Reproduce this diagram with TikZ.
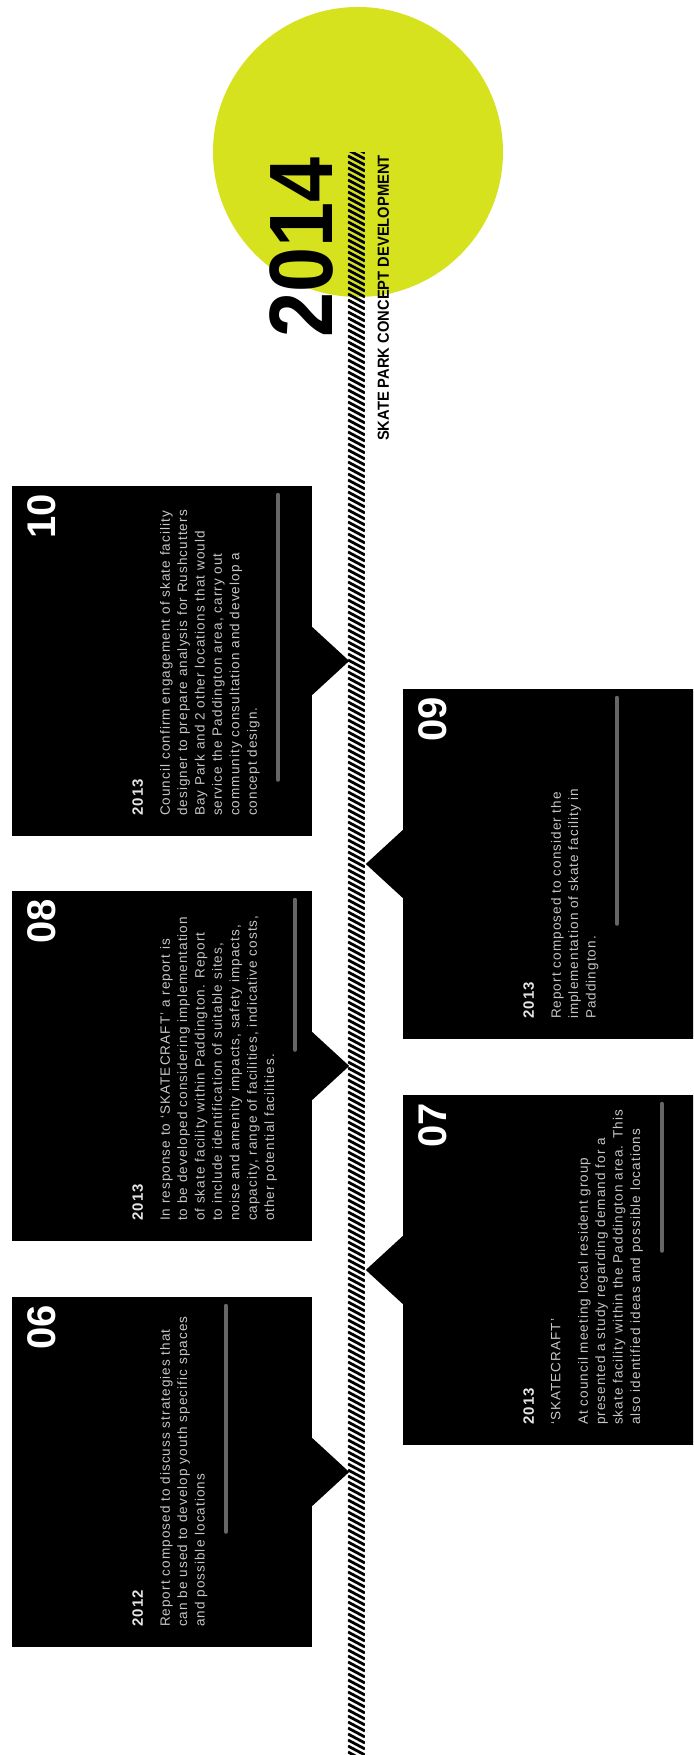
\documentclass[tikz,border=0pt]{standalone}
\usepackage{fontspec}
\setmainfont{Liberation Sans}
\newfontfamily\cardfont[LetterSpace=8]{Liberation Sans}
\usetikzlibrary{calc}
\definecolor{skatelime}{RGB}{214,226,30}

\begin{document}
\begin{tikzpicture}[x=1pt, y=1pt, rotate=90, transform shape,
    card/.style={fill=black, minimum width=350pt, minimum height=300pt, inner sep=0pt},
    cardnum/.style={text=white, font=\bfseries\fontsize{40}{40}\selectfont, inner sep=0pt, anchor=north east},
    cardyear/.style={text=white!90!black, font=\cardfont\bfseries\fontsize{15}{15}\selectfont, inner sep=0pt, anchor=base west},
    cardtext/.style={text=white!78!black, font=\cardfont\fontsize{13.5}{17.4}\selectfont, align=left, inner sep=0pt, anchor=north west},
    srcline/.style={black!60, line width=4pt, line cap=round}]
    % 横向画好再整体旋转, 1pt = 1px
    \useasboundingbox (0,0) rectangle (1755,693);
    \clip (0,0) rectangle (1755,693);

    % 2014 圆
    \fill[skatelime] (1603,335) circle (145);

    % 斜线时间轴
    \begin{scope}
        \clip (0,328) rectangle (1602,345);
        \foreach \s in {-12,-6,...,1608} \draw[line width=2.8pt] (\s+9,345) -- (\s,328);
    \end{scope}

    \node[font=\bfseries\fontsize{90}{90}\selectfont, inner sep=0pt, anchor=base east] (yr) at (1598,360) {\scalebox{0.9}[1]{2014}};
    \node[font=\bfseries\fontsize{16}{16}\selectfont, inner sep=0pt, anchor=base east] (title) at (1600,304) {\scalebox{0.92}[1]{SKATE PARK CONCEPT DEVELOPMENT}};

    % 06 (2012)
    \node[card] (c06) at (283,531) {};
    \fill (c06.south) ++(-34,0) -- ++(34,-37) -- ++(34,37) -- cycle;
    \node[cardnum] (n06) at ($(c06.north east)+(-8,-16)$) {06};
    \node[cardyear] (y06) at ($(c06.north west)+(20,-131)$) {2012};
    \node[cardtext] (t06) at ($(c06.north west)+(20,-148)$) {Report composed to discuss strategies that\\can be used to develop youth specific spaces\\and possible locations};
    \draw[srcline] ($(c06.north east)+(-9,-214)$) -- ++(-226,0);

    % 07 (2013)
    \node[card] (c07) at (485,140) {};
    \fill (c07.north) ++(-34,0) -- ++(34,37) -- ++(34,-37) -- cycle;
    \node[cardnum] (n07) at ($(c07.north east)+(-8,-16)$) {07};
    \node[cardyear] (y07) at ($(c07.north west)+(20,-131)$) {2013};
    \node[cardtext] (t07) at ($(c07.north west)+(20,-148)$) {‘SKATECRAFT’\\[10pt]At council meeting local resident group\\presented a study regarding demand for a\\skate facility within the Paddington area. This\\also identified ideas and possible locations};
    \draw[srcline] ($(c07.north east)+(-9,-259)$) -- ++(-147,0);

    % 08 (2013)
    \node[card] (c08) at (689,531) {};
    \fill (c08.south) ++(-34,0) -- ++(34,-37) -- ++(34,37) -- cycle;
    \node[cardnum] (n08) at ($(c08.north east)+(-8,-16)$) {08};
    \node[cardyear] (y08) at ($(c08.north west)+(20,-131)$) {2013};
    \node[cardtext] (t08) at ($(c08.north west)+(20,-148)$) {In response to ‘SKATECRAFT’ a report is\\to be developed considering implementation\\of skate facility within Paddington. Report\\to include identification of suitable sites,\\noise and amenity impacts, safety impacts,\\capacity, range of facilities, indicative costs,\\other potential facilities.};
    \draw[srcline] ($(c08.north east)+(-9,-283)$) -- ++(-150,0);

    % 09 (2013)
    \node[card] (c09) at (891,140) {};
    \fill (c09.north) ++(-34,0) -- ++(34,37) -- ++(34,-37) -- cycle;
    \node[cardnum] (n09) at ($(c09.north east)+(-8,-16)$) {09};
    \node[cardyear] (y09) at ($(c09.north west)+(20,-131)$) {2013};
    \node[cardtext] (t09) at ($(c09.north west)+(20,-148)$) {Report composed to consider the\\implementation of skate facility in\\Paddington.};
    \draw[srcline] ($(c09.north east)+(-9,-214)$) -- ++(-226,0);

    % 10 (2013)
    \node[card] (c10) at (1094,531) {};
    \fill (c10.south) ++(-34,0) -- ++(34,-37) -- ++(34,37) -- cycle;
    \node[cardnum] (n10) at ($(c10.north east)+(-8,-16)$) {10};
    \node[cardyear] (y10) at ($(c10.north west)+(20,-131)$) {2013};
    \node[cardtext] (t10) at ($(c10.north west)+(20,-148)$) {Council confirm engagement of skate facility\\designer to prepare analysis for Rushcutters\\Bay Park and 2 other locations that would\\service the Paddington area, carry out\\community consultation and develop a\\concept design.};
    \draw[srcline] ($(c10.north east)+(-9,-266)$) -- ++(-285,0);

\end{tikzpicture}
\end{document}
